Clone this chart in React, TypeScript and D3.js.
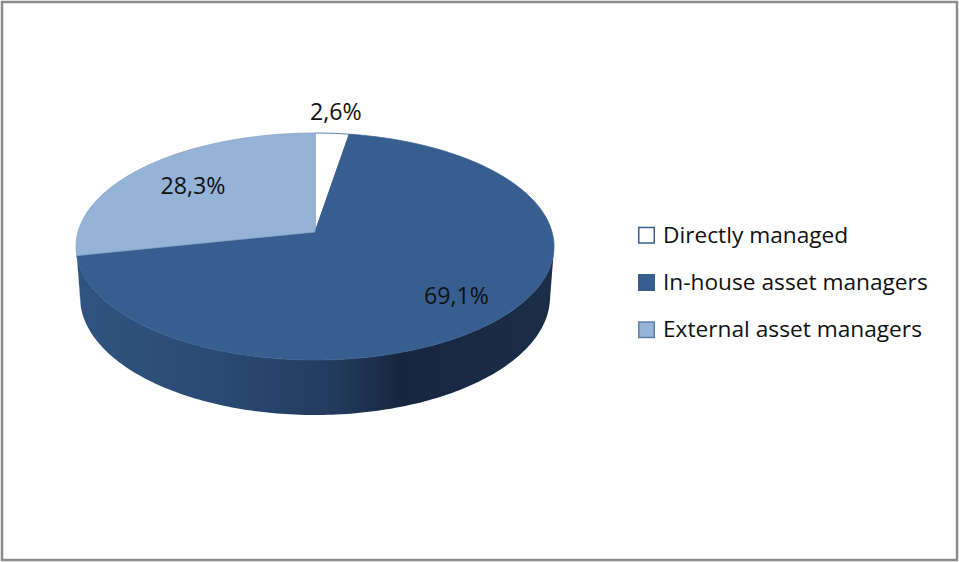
import * as d3 from "d3";
import React, { useEffect } from "react";

const categories = ["Directly managed", "In-house asset managers", "External asset managers"];
const shares = [2.6, 69.1, 28.3];
const shareLabels = ["2,6%", "69,1%", "28,3%"];
const labelRadius = [1.25, 0.77, 0.7];
const topColors = ["#ffffff", "#375e8f", "#95b3d7"];
const edgeColors = ["#3a5f8f", "#375e8f", "#86a3c8"];
const boxStroke = ["#3a5f8f", "#375e8f", "#5f7fa8"];
const sideStops: [number, string][][] = [
  [[0, "#e6e6e6"], [0.65, "#a6a6a6"], [1, "#b0b0b0"]],
  [[0, "#30547f"], [0.3, "#2a4a73"], [0.55, "#223a5c"], [0.68, "#17263f"], [1, "#1b2d48"]],
  [[0, "#7f9cc0"], [0.65, "#4f6580"], [1, "#566d8a"]],
];

const W = 959;
const H = 562;
const cx = 315;
const cy = 232;
const F = 237; // projected radius
const K = 0.145; // radius / camera distance
const tilt = Math.asin(0.471);
const depth = 0.244;
const font = "'Open Sans', 'Noto Sans', sans-serif";

// perspective projection of a point on the pie (angle clockwise from 12 o'clock)
function project(ang: number, rho: number, y: number): [number, number] {
  const x = rho * Math.sin(ang);
  const z = -rho * Math.cos(ang);
  const yc = y * Math.cos(tilt) - z * Math.sin(tilt);
  const d = 1 - K * (z * Math.cos(tilt) + y * Math.sin(tilt));
  return [cx + (F * x) / d, cy - (F * yc) / d];
}

function arcPoints(a0: number, a1: number, y: number) {
  const n = Math.max(2, Math.ceil(((a1 - a0) / (2 * Math.PI)) * 360));
  return d3.range(n + 1).map(i => project(a0 + ((a1 - a0) * i) / n, 1, y));
}

export default function App() {
  useEffect(() => {
    document.body.style.margin = "0";
  }, []);

  const arcs = d3.pie<number>().sort(null).startAngle(0).endAngle(2 * Math.PI)(shares);
  const line = d3.line();

  // visible part of the rim: cos(theta) < -K / cos(tilt)
  const lim = Math.acos(-K / Math.cos(tilt));
  const visLo = lim;
  const visHi = 2 * Math.PI - lim;

  const x = d3.scaleLinear().domain([0, 1]).range([cx - F, cx + F]);

  const legendY = d3.scalePoint<string>().domain(categories).range([235, 329.5]);

  return (
    <svg width={W} height={H} style={{ display: "block", background: "#fff" }}>
      <defs>
        {sideStops.map((stops, i) => (
          <linearGradient key={i} id={`side${i}`} gradientUnits="userSpaceOnUse"
            x1={x(0)} x2={x(1)} y1={0} y2={0}>
            {stops.map(([o, c], j) => <stop key={j} offset={o} stopColor={c} />)}
          </linearGradient>
        ))}
      </defs>
      <rect x={2} y={2} width={W - 4} height={H - 4} fill="#fff" stroke="#8c8c8c" strokeWidth={2.5} />

      {/* rim */}
      {arcs.map((a, i) => {
        const a0 = Math.max(a.startAngle, visLo);
        const a1 = Math.min(a.endAngle, visHi);
        if (a1 <= a0) return null;
        const pts = [...arcPoints(a0, a1, 0), ...arcPoints(a0, a1, -depth).reverse()];
        return <path key={`s${i}`} d={line(pts)! + "Z"} fill={`url(#side${i})`} />;
      })}

      {/* top faces */}
      {arcs.map((a, i) => {
        const pts = [project(0, 0, 0), ...arcPoints(a.startAngle, a.endAngle, 0)];
        return (
          <path key={`t${i}`} d={line(pts)! + "Z"} fill={topColors[i]}
            stroke={edgeColors[i]} strokeWidth={0.8} strokeLinejoin="round" />
        );
      })}

      {/* data labels */}
      {arcs.map((a, i) => {
        const mid = (a.startAngle + a.endAngle) / 2;
        const [lx, ly] = project(mid, labelRadius[i], 0);
        return (
          <text key={`l${i}`} x={lx} y={ly} dy="0.35em" textAnchor="middle"
            fontFamily={font} fontSize={23.2} fill="#111">
            {shareLabels[i]}
          </text>
        );
      })}

      {/* legend */}
      {categories.map((c, i) => (
        <g key={c} transform={`translate(638,${legendY(c)})`}>
          <rect x={0.75} y={-7.5} width={15.5} height={15.5} fill={topColors[i]}
            stroke={boxStroke[i]} strokeWidth={1.5} />
          <text x={25} y={0} dy="0.35em" fontFamily={font} fontSize={22.7} fill="#111">{c}</text>
        </g>
      ))}
    </svg>
  );
}
